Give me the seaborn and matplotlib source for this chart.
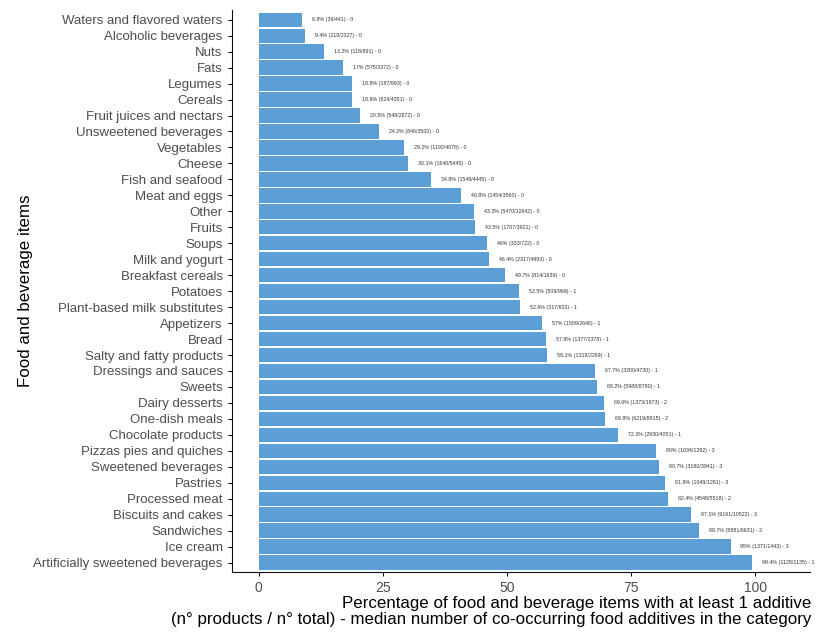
import matplotlib
matplotlib.use("Agg")
import matplotlib.pyplot as plt
import seaborn as sns
import pandas as pd

# categorieen van boven naar onder
categorieen = [
    "Waters and flavored waters", "Alcoholic beverages", "Nuts", "Fats", "Legumes",
    "Cereals", "Fruit juices and nectars", "Unsweetened beverages", "Vegetables", "Cheese",
    "Fish and seafood", "Meat and eggs", "Other", "Fruits", "Soups",
    "Milk and yogurt", "Breakfast cereals", "Potatoes", "Plant-based milk substitutes", "Appetizers",
    "Bread", "Salty and fatty products", "Dressings and sauces", "Sweets", "Dairy desserts",
    "One-dish meals", "Chocolate products", "Pizzas pies and quiches", "Sweetened beverages", "Pastries",
    "Processed meat", "Biscuits and cakes", "Sandwiches", "Ice cream", "Artificially sweetened beverages",
]
percentages = [
    8.8, 9.4, 13.2, 17, 18.8,
    18.9, 20.5, 24.2, 29.2, 30.1,
    34.8, 40.8, 43.3, 43.5, 46,
    46.4, 49.7, 52.5, 52.6, 57,
    57.9, 58.1, 67.7, 68.2, 69.6,
    69.8, 72.3, 80, 80.7, 81.9,
    82.4, 87.1, 88.7, 95, 99.4,
]
n_producten = [
    39, 218, 118, 575, 187,
    824, 548, 846, 1192, 1640,
    1548, 1454, 5470, 1707, 333,
    2317, 814, 509, 317, 1509,
    1377, 1318, 3200, 5988, 1373,
    6219, 2930, 1034, 3180, 1049,
    4548, 9161, 5881, 1371, 1128,
]
n_totaal = [
    441, 2327, 891, 3372, 993,
    4351, 2672, 3500, 4078, 5445,
    4445, 3560, 12642, 3921, 722,
    4993, 1639, 969, 602, 2646,
    2378, 2269, 4730, 8780, 1973,
    8915, 4051, 1292, 3941, 1281,
    5518, 10522, 6631, 1443, 1135,
]
mediaan = [
    0, 0, 0, 0, 0,
    0, 0, 0, 0, 0,
    0, 0, 0, 0, 0,
    0, 0, 1, 1, 1,
    1, 1, 1, 1, 2,
    2, 1, 3, 3, 3,
    2, 3, 2, 3, 1,
]

plt.rcParams['font.family'] = ['Liberation Sans', 'DejaVu Sans']

df = pd.DataFrame({"cat": categorieen, "pct": percentages})

fig = plt.figure(figsize=(8.19, 6.35), dpi=100)
ax = fig.add_axes([0.283, 0.099, 0.706, 0.885])

sns.barplot(data=df, x="pct", y="cat", order=categorieen, color="#5b9fd6",
            saturation=1, width=0.9, ax=ax)

for i, p in enumerate(percentages):
    label = f"{p:g}% ({n_producten[i]}/{n_totaal[i]}) - {mediaan[i]}"
    ax.text(p + 2, i, label, va="center", ha="left", fontsize=3.8, color="#333333")

ax.set_xlim(-5.4, 111)
ax.set_ylim(34.6, -0.6)
ax.set_xticks([0, 25, 50, 75, 100])
sns.despine(ax=ax)
ax.spines["left"].set_color("#111111")
ax.spines["bottom"].set_color("#111111")
ax.tick_params(axis="x", labelsize=10, labelcolor="#4d4d4d", length=3, color="#111111")
ax.tick_params(axis="y", labelsize=9.5, labelcolor="#4d4d4d", length=3, color="#111111")

ax.set_xlabel("Percentage of food and beverage items with at least 1 additive\n"
              "(n\u00b0 products / n\u00b0 total) - median number of co-occurring food additives in the category",
              fontsize=12.2, ha="right", linespacing=1.1)
ax.xaxis.set_label_coords(1.003, -0.043)
ax.set_ylabel("Food and beverage items", fontsize=12.2)
ax.yaxis.set_label_coords(-0.344, 0.5)

plt.savefig("out.png", dpi=100)
